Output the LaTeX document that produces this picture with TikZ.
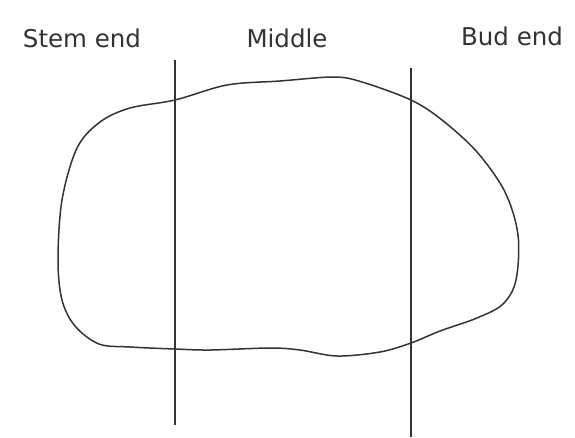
\documentclass[tikz,border=0pt]{standalone}
\usepackage{fontspec}
\setmainfont{DejaVu Sans}
\begin{document}
\begin{tikzpicture}[x=1pt,y=-1pt,
  lbl/.style={font=\fontsize{24.5}{28}\selectfont, text=black!80, anchor=base, inner sep=0pt},
  outline/.style={draw=black!80, line width=1.5pt},
  divider/.style={draw=black!80, line width=1.4pt}]
\useasboundingbox (0,0) rectangle (575,437);
\node[lbl] (stem) at (82,47) {Stem end};
\node[lbl] (mid) at (287,47) {Middle};
\node[lbl] (bud) at (512,45) {Bud end};
\draw[outline] plot[smooth cycle, tension=0.55] coordinates {
  (77,148) (100,122) (130,108) (175,100) (227,85) (280,81) (334,77) (362,82)
  (411,100) (442,120) (477,152) (505,192) (518,235) (516,280) (503,304)
  (477,318) (440,331) (411,343) (380,352) (337,356) (300,350) (270,348)
  (210,350) (175,349) (130,347) (99,344) (75,326) (62,300) (58,260) (62,200)};
\coordinate (l1) at (175,60);
\coordinate (l2) at (175,425);
\coordinate (r1) at (411,68);
\coordinate (r2) at (411,437);
\draw[divider] (l1) -- (l2);
\draw[divider] (r1) -- (r2);
\end{tikzpicture}
\end{document}
